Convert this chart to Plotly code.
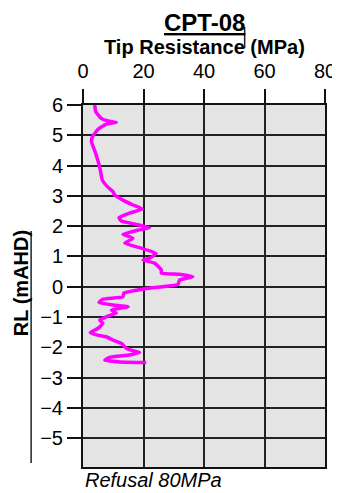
import plotly.graph_objects as go

# CPT-08 trace (RL in mAHD, tip resistance in MPa)
rl = [6.0, 5.78, 5.56, 5.47, 5.43, 5.37, 5.2, 4.95, 4.79, 4.4, 3.96, 3.52, 3.28,
      3.14, 3.03, 2.86, 2.7, 2.57, 2.43, 2.28, 2.17, 2.06, 1.95, 1.87, 1.73,
      1.6, 1.44, 1.29, 1.1, 0.94, 0.88, 0.78, 0.55, 0.45, 0.41, 0.33, 0.22,
      0.08, -0.06, -0.21, -0.33, -0.41, -0.52, -0.6, -0.66, -0.77, -0.87,
      -0.99, -1.1, -1.2, -1.37, -1.51, -1.59, -1.65, -1.76, -1.87, -2.03,
      -2.11, -2.17, -2.25, -2.33, -2.42, -2.48, -2.5]
qc = [3.9, 4.2, 6.0, 8.3, 11.0, 7.7, 5.0, 3.1, 2.8, 4.2, 5.5, 6.4, 8.3,
      9.9, 10.5, 13.2, 16.5, 19.6, 15.4, 11.9, 12.7, 17.6, 22.0, 18.2, 13.2,
      16.5, 13.8, 18.7, 24.2, 22.0, 19.8, 23.7, 25.9, 25.9, 31.9, 36.3, 31.9,
      31.4, 21.0, 13.5, 13.2, 6.6, 5.3, 9.9, 14.9, 9.4, 11.0,
      7.7, 5.5, 6.6, 5.0, 2.4, 4.4, 7.7, 9.9, 12.7, 14.3,
      16.5, 18.7, 15.4, 8.8, 7.2, 12.1, 20.9]

x_ticks = [0, 20, 40, 60, 80]
y_ticks = [-5, -4, -3, -2, -1, 0, 1, 2, 3, 4, 5, 6]

font = "Liberation Sans, Arial, sans-serif"

fig = go.Figure()
fig.add_trace(go.Scatter(x=qc, y=rl, mode="lines",
                         line=dict(color="#ff00ff", width=3.5, shape="spline", smoothing=0.4),
                         showlegend=False, hoverinfo="skip"))

# page body has an 8px margin, so the figure is a bit smaller than the window
fig.update_layout(
    width=332, height=485,
    margin=dict(l=75, r=15, t=97, b=26),
    paper_bgcolor="white", plot_bgcolor="#e4e4e4",
    font=dict(family=font, color="black", size=20),
    xaxis=dict(side="top", range=[0, 80], tickvals=x_ticks, automargin=False,
               ticks="outside", ticklen=14, tickwidth=2, tickcolor="#111",
               showgrid=True, gridcolor="#222", gridwidth=2,
               showline=True, linecolor="#111", linewidth=2, mirror=True,
               zeroline=False, ticklabelstandoff=3),
    yaxis=dict(range=[-5.95, 6], tickvals=y_ticks, automargin=False,
               ticks="outside", ticklen=14, tickwidth=2, tickcolor="#111",
               showgrid=True, gridcolor="#222", gridwidth=2,
               showline=True, linecolor="#111", linewidth=2, mirror=True,
               zeroline=False),
)

fig.add_annotation(text="<b><u>CPT-08</u></b>", x=0.5, y=1.229, xref="paper", yref="paper",
                   showarrow=False, font=dict(size=24), yanchor="middle")
fig.add_annotation(text="<b>Tip Resistance (MPa)</b>", x=0.5, y=1.16, xref="paper", yref="paper",
                   showarrow=False, font=dict(size=20), yanchor="middle")
fig.add_annotation(text="<b>RL (mAHD)</b>", x=-0.256, y=0.508, xref="paper", yref="paper",
                   showarrow=False, font=dict(size=20), textangle=-90,
                   xanchor="center", yanchor="middle")
fig.add_annotation(text="<i>Refusal 80MPa</i>", x=0, y=-0.036, xref="paper", yref="paper",
                   showarrow=False, font=dict(size=20), xanchor="left", yanchor="middle")

# stray drafting lines in the original
fig.add_shape(type="line", xref="paper", yref="paper", x0=-0.2144, x1=-0.2144,
              y0=0.011, y1=0.652, line=dict(color="#222", width=1.5))
fig.add_shape(type="line", xref="paper", yref="paper", x0=0.668, x1=0.668,
              y0=1.157, y1=1.2155, line=dict(color="#222", width=1.5))

fig.write_html("out.html")
